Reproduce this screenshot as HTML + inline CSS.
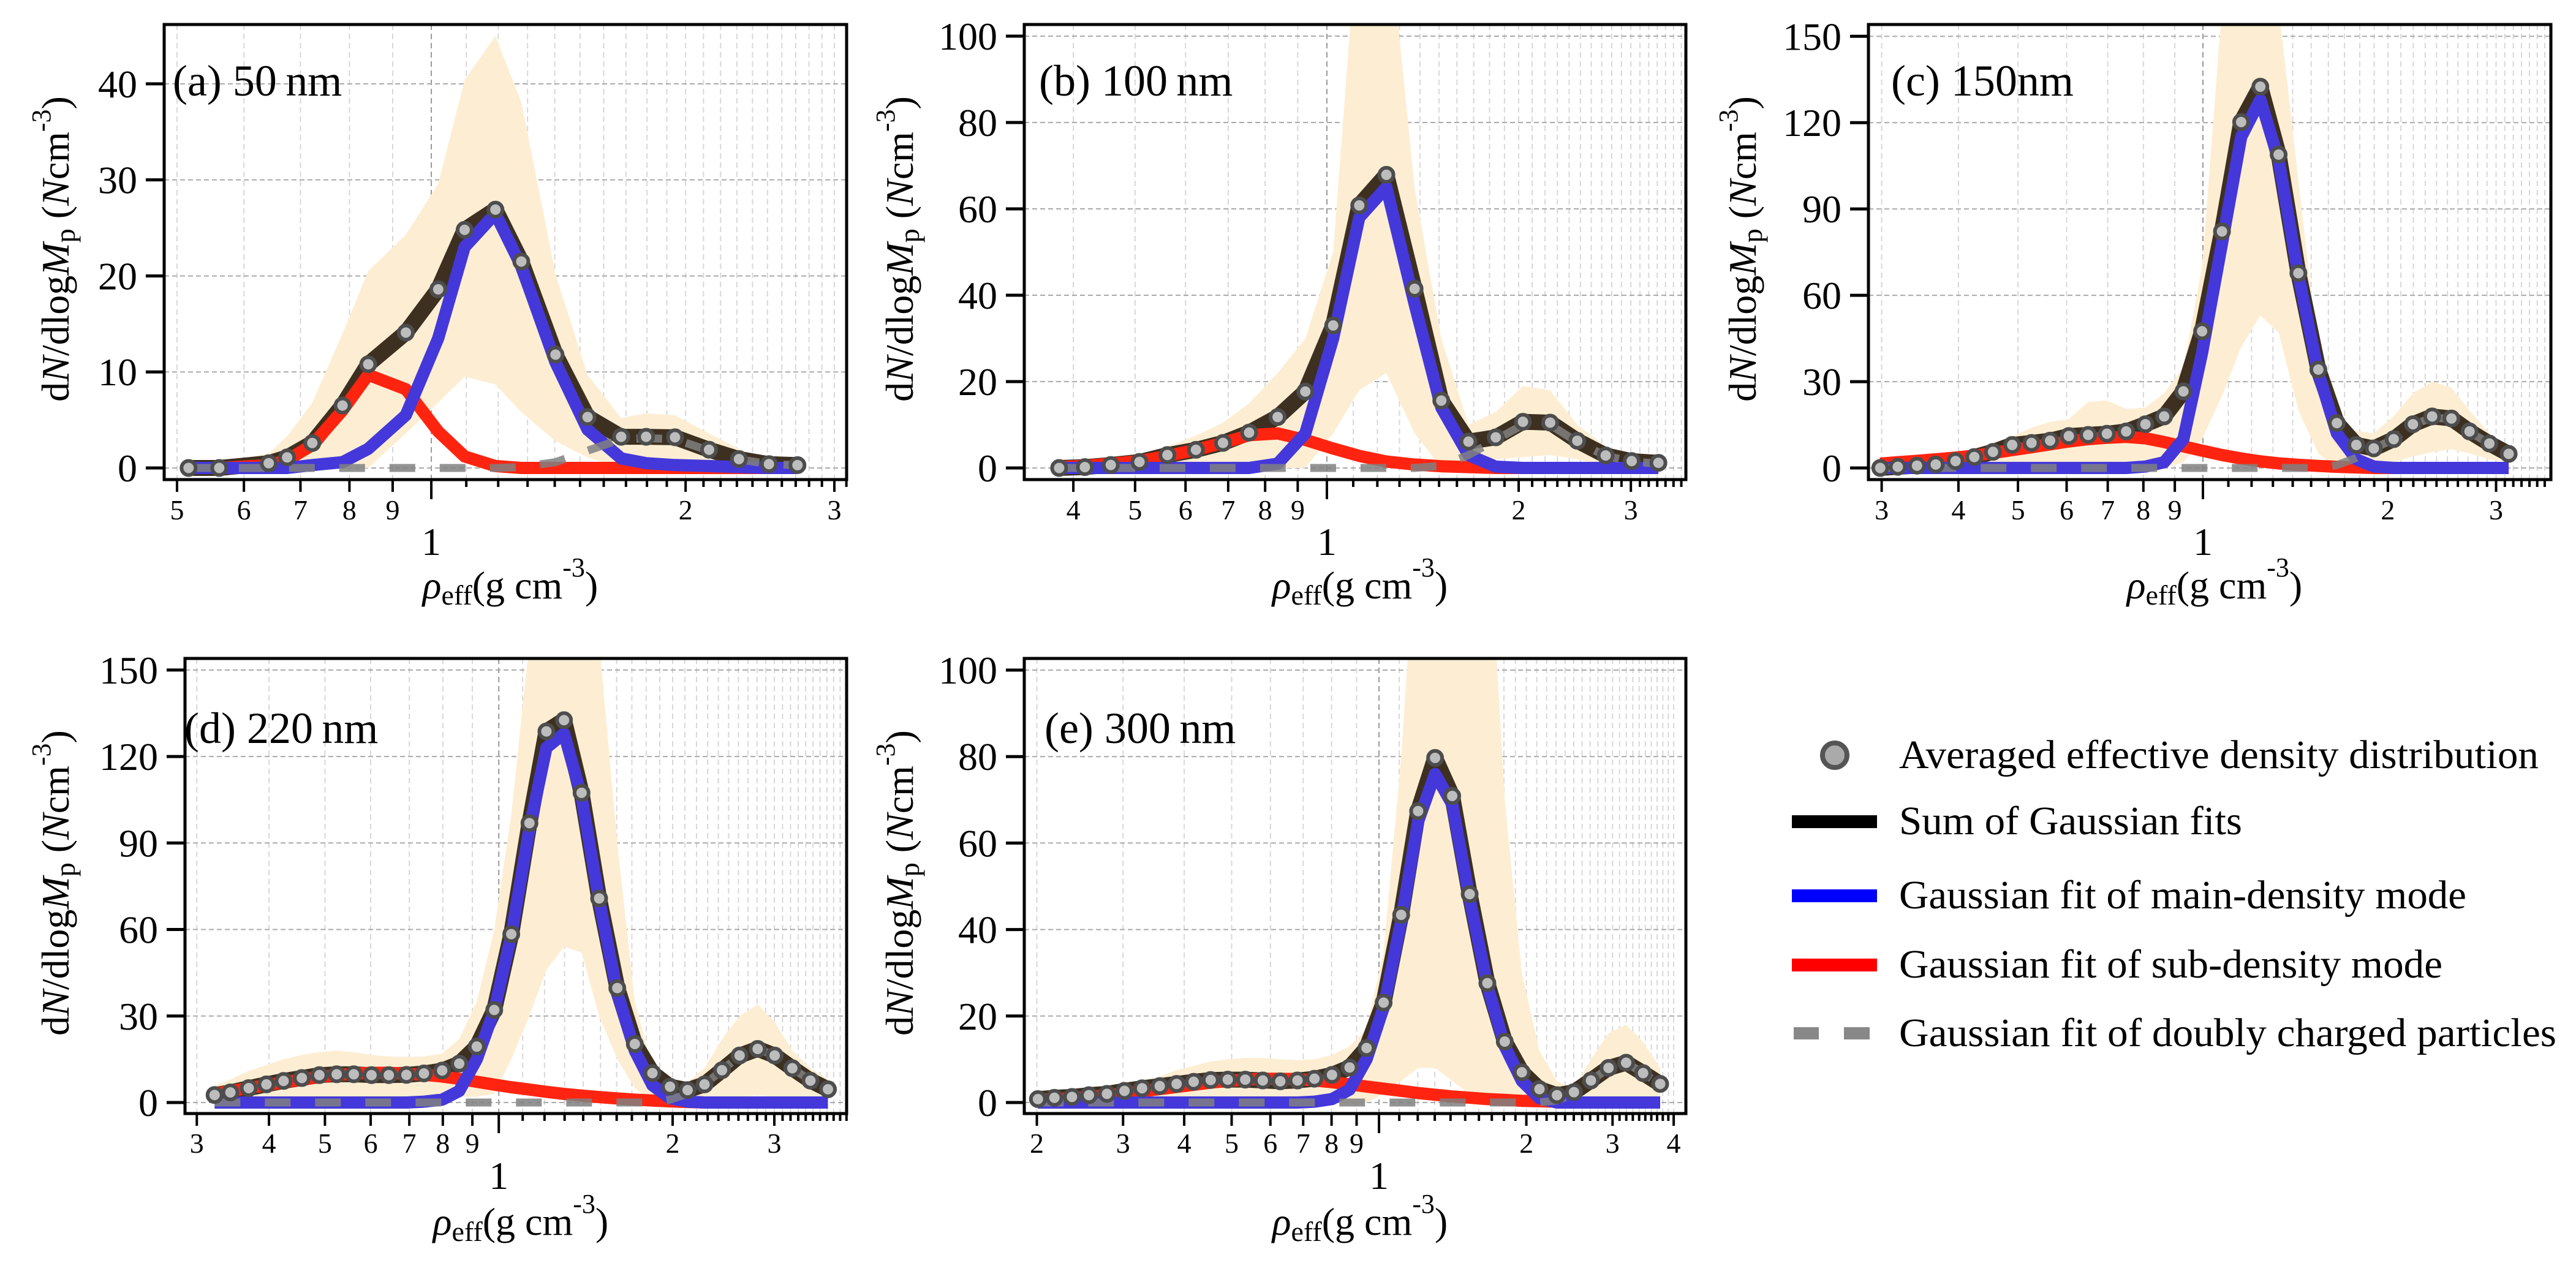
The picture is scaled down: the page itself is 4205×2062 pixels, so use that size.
<!DOCTYPE html>
<html><head><meta charset="utf-8"><title>Effective density distributions</title>
<style>
html,body{margin:0;padding:0;background:#fff;}
svg{display:block;font-family:"Liberation Serif","Times New Roman",serif;}
</style></head>
<body>
<svg id="fig" width="4205" height="2062" viewBox="0 0 4205 2062" xmlns="http://www.w3.org/2000/svg"></svg>
<script>
// ---------- Panel (a) 50 nm ----------
const X_A=[0.516,0.561,0.642,0.675,0.723,0.785,0.842,0.933,1.019,1.095,1.191,1.278,1.403,1.531,1.678,1.796,1.943,2.132,2.313,2.51,2.713];
const PTS_A=[0,0,0.5,1.1,2.6,6.5,10.8,14.1,18.6,24.8,26.9,21.5,11.8,5.3,3.25,3.25,3.2,1.9,0.93,0.4,0.3];
const BLUE_A=[0,0,0,0,0.3,0.6,2,5.5,13.5,23,26.5,21,11,4,1,0.5,0.3,0.2,0.1,0,0];
const RED_A=[0,0,0.3,0.8,2.4,6,9.7,8.2,3.8,1.2,0.2,0,0,0,0,0,0,0,0,0,0];
const GRAY_A=[0,0,0,0,0,0,0,0,0,0,0,0.1,0.6,1.8,3.0,3.1,3.0,1.8,0.9,0.4,0.3];
const HI_A=[0.3,0.5,1.5,3.3,6.8,14,20.5,24.3,29.6,40.4,45,38.1,20.2,9.7,5.2,5.7,5.5,3.6,2,0.7,0.3];
const LO_A=[0,0,0,0,0,0,0,3.6,6.8,9.5,8.7,5.8,2.8,1.1,0,0,0,0,0,0,0];
// ---------- Panel (b) 100 nm ----------
const X_B=[0.380,0.417,0.458,0.508,0.562,0.623,0.687,0.755,0.837,0.925,1.023,1.124,1.240,1.373,1.512,1.668,1.841,2.031,2.241,2.472,2.739,3.009,3.314];
const PTS_B=[0,0.2,0.7,1.4,3,4.2,5.8,8.2,11.8,17.7,33,60.8,67.9,41.5,15.6,6.1,7.1,10.7,10.5,6.3,2.9,1.6,1.2];
const BLUE_B=[0,0,0,0,0,0,0,0,1,8,30,58,65,38,14,3,0.3,0,0,0,0,0,0];
const RED_B=[0.2,0.5,1,1.6,2.8,4.2,5.8,7.6,8,6.5,4.5,2.8,1.5,0.8,0.4,0.2,0,0,0,0,0,0,0];
const GRAY_B=[0,0,0,0,0,0,0,0,0,0,0,0,0,0,0.5,3,6.5,10,10,6,2.8,1.5,1];
const HI_B=[0.3,0.5,1,2.5,5,7.5,10.5,15,22,30,50,130,130,65,30,10,13,19,18,10,5,2.5,1.5];
const LO_B=[0,0,0,0,0,0,0,0,0,0,8,18,22,8,0,0,2,2.5,3,2,0.5,0.5,0.3];
// ---------- Panel (c) 150 nm ----------
const X_C=[0.2984,0.3187,0.3425,0.3674,0.3957,0.4245,0.4553,0.4893,0.526,0.564,0.605,0.6504,0.6978,0.75,0.8061,0.8647,0.9294,0.9968,1.074,1.154,1.240,1.328,1.430,1.541,1.652,1.777,1.897,2.044,2.197,2.361,2.538,2.716,2.925,3.145];
const PTS_C=[0,0.4,0.8,1.2,2.4,3.8,5.6,8,8.7,9.5,11.1,11.5,11.9,12.7,15.2,17.9,26.6,47.5,82.2,120.2,132.5,108.9,67.7,34.2,15.6,8,6.8,10,15.2,17.9,17.2,12.7,8.5,4.9];
const BLUE_C=[0,0,0,0,0,0,0,0,0,0,0,0,0,0,0.5,2,10,40,78,115,128,107,67,33,12,3,0.5,0,0,0,0,0,0,0];
const RED_C=[1.5,2,2.5,3,3.6,4.3,5.2,6.2,7.2,8.2,9.2,10,10.5,10.8,10.3,9,7.5,6,4.5,3.3,2.3,1.6,1.1,0.7,0.4,0.2,0,0,0,0,0,0,0,0];
const GRAY_C=[0,0,0,0,0,0,0,0,0,0,0,0,0,0,0,0,0,0,0,0,0,0,0,0,1,3.5,6.8,10,15,17.5,17,12.5,8.5,4.9];
const HI_C=[0.5,0.8,1.2,1.8,3,6,8.5,11,14,16,17,23,23.5,20.5,21,26,35,70,160,160,160,160,100,40,12,13,12,18,26,30,28,20,12,6];
const LO_C=[0,0,0,0,0,0,0,0,0,0,0,0,0,0,0,0,2,10,25,42,53,47,20,5,0,0,0,2,4,5.5,6.5,5,3,2];
// ---------- Panel (d) 220 nm ----------
const X_D=[0.322,0.343,0.369,0.396,0.424,0.456,0.489,0.524,0.561,0.602,0.645,0.692,0.742,0.798,0.854,0.916,0.982,1.051,1.130,1.209,1.297,1.391,1.492,1.604,1.720,1.845,1.979,2.123,2.271,2.435,2.612,2.807,3.004,3.223,3.464,3.715];
const PTS_D=[2.6,3.5,5,6.3,7.5,8.5,9.5,9.8,9.8,9.5,9.5,9.6,10.1,11.1,13.5,19.4,32.1,58.4,96.9,128.7,132.6,107.4,70.8,39.7,20.3,10.2,5.5,4.3,6.3,11.2,16.3,18.6,16.3,11.9,7.6,4.6];
const BLUE_D=[0,0,0,0,0,0,0,0,0,0,0,0,0.3,1,4,15,32,58,95,123,128,106,70,38,18,6,1.5,0.3,0,0,0,0,0,0,0,0];
const RED_D=[3,4,5,6,7,8,8.8,9.5,10,10.3,10.3,10,9.6,9,8.2,7.2,6.2,5.3,4.5,3.7,3,2.4,1.9,1.4,1,0.7,0.4,0.2,0,0,0,0,0,0,0,0];
const GRAY_D=[0,0,0,0,0,0,0,0,0,0,0,0,0,0,0,0,0,0,0,0,0,0,0,0,0,0,1,3,6.3,11.2,16.3,18.6,16.3,11.9,7.6,4.6];
const HI_D=[6,8,11,13,15,16.5,17.5,18,17.5,16.5,16,15.8,16,17,22,35,60,100,160,160,160,160,160,90,35,12,8,7,12,22,30,34,28,18,12,8];
const LO_D=[1,1.5,2,2,2,2,2,2,2,2,2,2,2,2,2,2,3,15,30,46,54,52,30,15,5,0,0,0,0,1.5,2,2.5,2,1,0,0];
// ---------- Panel (e) 300 nm ----------
const X_E=[0.201,0.2172,0.2359,0.2555,0.2781,0.302,0.3281,0.3565,0.386,0.4182,0.4531,0.4909,0.533,0.5788,0.6286,0.6816,0.7382,0.8017,0.8708,0.9432,1.022,1.110,1.202,1.302,1.411,1.532,1.665,1.807,1.958,2.127,2.310,2.502,2.710,2.944,3.198,3.464,3.753];
const PTS_E=[0.8,1.1,1.3,1.7,2,2.7,3.3,3.8,4.3,4.8,5.2,5.3,5.3,5.1,4.9,5.1,5.5,6.4,8.1,12.6,23.1,43.4,67.4,79.7,70.9,48.2,27.6,14.1,7,3.1,1.7,2.4,5.1,8,9.2,6.8,4.3];
const BLUE_E=[0,0,0,0,0,0,0,0,0,0,0,0,0,0,0,0,0.2,0.8,3,10,22,42,65,76,69,47,27,13,5,1,0,0,0,0,0,0,0];
const RED_E=[0.6,0.8,1,1.3,1.7,2.1,2.6,3.1,3.6,4.1,4.6,5,5.3,5.5,5.5,5.4,5.1,4.7,4.2,3.7,3.2,2.7,2.2,1.8,1.4,1.1,0.8,0.6,0.4,0.3,0.2,0,0,0,0,0,0];
const GRAY_E=[0,0,0,0,0,0,0,0,0,0,0,0,0,0,0,0,0,0,0,0,0,0,0,0,0,0,0,0,0,0,0.5,2,5,8,9.2,6.8,4.3];
const HI_E=[1,1.2,1.5,2,2.5,3.5,4.5,6,7.5,8.5,9.5,10,10.3,10.3,10,9.8,10,11,13,17,35,80,140,140,140,140,140,70,30,12,5,3,10,16,18,14,8];
const LO_E=[0,0,0,0,0,0,0,0,0,0,0,0,0,0,0,0,0,0,0,0,2,5,8,8,5,2,0,0,0,0,0,0,0,0,0,0,0];

const Y_TICKS_A=[0,10,20,30,40];
const Y_TICKS_B=[0,20,40,60,80,100];
const Y_TICKS_C=[0,30,60,90,120,150];
const Y_TICKS_D=[0,30,60,90,120,150];
const Y_TICKS_E=[0,20,40,60,80,100];
const X_LABELS_A=[0.5,0.6,0.7,0.8,0.9,1,2,3];
const X_LABELS_B=[0.4,0.5,0.6,0.7,0.8,0.9,1,2,3];
const X_LABELS_C=[0.3,0.4,0.5,0.6,0.7,0.8,0.9,1,2,3];
const X_LABELS_D=[0.3,0.4,0.5,0.6,0.7,0.8,0.9,1,2,3];
const X_LABELS_E=[0.2,0.3,0.4,0.5,0.6,0.7,0.8,0.9,1,2,3,4];

const NS="http://www.w3.org/2000/svg";
const svg=document.getElementById('fig');
function mk(tag,attrs,parent){const e=document.createElementNS(NS,tag);for(const k in attrs)e.setAttribute(k,attrs[k]);(parent||svg).appendChild(e);return e;}

const panels=[
 {id:'a',title:'(a) 50\u2009nm',L:268,R:1382,T:40,B:783,xmin:0.4828,xmax:3.102,ymin:-1.21,ymax:46.18,x:X_A,pts:PTS_A,blue:BLUE_A,red:RED_A,gray:GRAY_A,hi:HI_A,lo:LO_A,yt:Y_TICKS_A,xl:X_LABELS_A,tx:282,ty:156,ylx:112,tickBase:848,oneBase:906,labBase:977},
 {id:'b',title:'(b) 100\u2009nm',L:1672,R:2752,T:40,B:783,xmin:0.335,xmax:3.66,ymin:-2.69,ymax:102.7,x:X_B,pts:PTS_B,blue:BLUE_B,red:RED_B,gray:GRAY_B,hi:HI_B,lo:LO_B,yt:Y_TICKS_B,xl:X_LABELS_B,tx:1696,ty:156,ylx:1490,tickBase:848,oneBase:906,labBase:977},
 {id:'c',title:'(c) 150nm',L:3050,R:4164,T:40,B:783,xmin:0.2855,xmax:3.684,ymin:-4.04,ymax:154.1,x:X_C,pts:PTS_C,blue:BLUE_C,red:RED_C,gray:GRAY_C,hi:HI_C,lo:LO_C,yt:Y_TICKS_C,xl:X_LABELS_C,tx:3087,ty:156,ylx:2866,tickBase:848,oneBase:906,labBase:977},
 {id:'d',title:'(d) 220\u2009nm',L:302,R:1382,T:1075,B:1818,xmin:0.2862,xmax:4.002,ymin:-3.82,ymax:154.0,x:X_D,pts:PTS_D,blue:BLUE_D,red:RED_D,gray:GRAY_D,hi:HI_D,lo:LO_D,yt:Y_TICKS_D,xl:X_LABELS_D,tx:301,ty:1213,ylx:112,tickBase:1882,oneBase:1941,labBase:2016},
 {id:'e',title:'(e) 300\u2009nm',L:1672,R:2752,T:1075,B:1818,xmin:0.1885,xmax:4.236,ymin:-2.55,ymax:102.7,x:X_E,pts:PTS_E,blue:BLUE_E,red:RED_E,gray:GRAY_E,hi:HI_E,lo:LO_E,yt:Y_TICKS_E,xl:X_LABELS_E,tx:1705,ty:1213,ylx:1490,tickBase:1882,oneBase:1941,labBase:2016}
];

function fmtTick(v){ if(v<1) return String(Math.round(v*10)); return String(v); }

panels.forEach(p=>{
  const lx0=Math.log10(p.xmin), lx1=Math.log10(p.xmax);
  const sx=v=>p.L+(Math.log10(v)-lx0)/(lx1-lx0)*(p.R-p.L);
  const sy=v=>p.B-(v-p.ymin)/(p.ymax-p.ymin)*(p.B-p.T);
  const g=mk('g',{});
  
  
  const cp=mk('clipPath',{id:'clip-'+p.id},g);
  mk('rect',{x:p.L,y:p.T,width:p.R-p.L,height:p.B-p.T},cp);
  const plot=mk('g',{'clip-path':'url(#clip-'+p.id+')'},g);
  
  
  const minors=[];
  for(let k=1;k<=40;k++){const v=k/10; if(v>=p.xmin&&v<=p.xmax) minors.push(v);}
  minors.forEach(v=>{
    const ln=mk('line',{x1:sx(v),x2:sx(v),y1:p.T,y2:p.B,stroke:v===1?'#999':'#d8d8d8','stroke-width':2,'stroke-dasharray':'9 6'},plot);
    
    
  });
  p.yt.forEach(v=>{
    const ln=mk('line',{x1:p.L,x2:p.R,y1:sy(v),y2:sy(v),stroke:'#aaa','stroke-width':2,'stroke-dasharray':'8 5'},plot);
    
    
  });
  let d='';
  p.x.forEach((xv,i)=>{d+=(i?'L':'M')+sx(xv).toFixed(1)+','+sy(p.hi[i]).toFixed(1);});
  for(let i=p.x.length-1;i>=0;i--){d+='L'+sx(p.x[i]).toFixed(1)+','+sy(p.lo[i]).toFixed(1);}
  const band=mk('path',{d:d+'Z',fill:'#fdeed3'},plot);
  
  
  const line=(arr,attrs,name)=>{
    const pts=p.x.map((xv,i)=>sx(xv).toFixed(1)+','+sy(arr[i]).toFixed(1)).join(' ');
    const el=mk('polyline',Object.assign({points:pts,fill:'none','stroke-linejoin':'round'},attrs),plot);
    
    
  };
  line(p.pts,{stroke:'#3d3020','stroke-width':26},'sum-gaussian-line');
  line(p.red,{stroke:'#ff2410','stroke-width':20},'sub-density-line');
  line(p.blue,{stroke:'#4438da','stroke-width':20},'main-density-line');
  line(p.gray,{stroke:'#808080','stroke-width':13,'stroke-opacity':0.85,'stroke-dasharray':'42 40','stroke-linejoin':'miter'},'doubly-charged-line');
  p.x.forEach((xv,i)=>{
    const c=mk('circle',{cx:sx(xv),cy:sy(p.pts[i]),r:11.5,fill:'#bdbdbd',stroke:'#4d4d4d','stroke-width':6},plot);
    
    
  });
  const fr=mk('rect',{x:p.L,y:p.T,width:p.R-p.L,height:p.B-p.T,fill:'none',stroke:'#000','stroke-width':5},g);
  
  
  p.yt.forEach(v=>{
    const t=mk('line',{x1:p.L-30,x2:p.L,y1:sy(v),y2:sy(v),stroke:'#000','stroke-width':5},g);
    
    
    const tl=mk('text',{x:p.L-44,y:sy(v)+22,'font-size':64,'text-anchor':'end',fill:'#000'},g);
    tl.textContent=String(v);
    
    
  });
  minors.forEach(v=>{
    const lab=p.xl.some(u=>Math.abs(u-v)<1e-9);
    const len=v===1?32:(lab?20:12);
    const t=mk('line',{x1:sx(v),x2:sx(v),y1:p.B,y2:p.B+len,stroke:'#000','stroke-width':4},g);
    
    
  });
  p.xl.forEach(v=>{
    const big=(v===1);
    const tl=mk('text',{x:sx(v),y:big?p.oneBase:p.tickBase,'font-size':big?64:46,'text-anchor':'middle',fill:'#000'},g);
    tl.textContent=fmtTick(v);
    
    
  });
  const cx=(p.L+p.R)/2;
  const xt=mk('text',{x:cx+8,y:p.labBase,'font-size':64,'text-anchor':'middle',fill:'#000'},g);
  
  
  xt.innerHTML='<tspan font-style="italic">ρ</tspan><tspan font-size="46" dy="10">eff</tspan><tspan dy="-10">(g cm</tspan><tspan font-size="44" dy="-36">-3</tspan><tspan dy="36">)</tspan>';
  const ycen=(p.T+p.B)/2-5;
  const yt=mk('text',{x:0,y:0,'font-size':64,'text-anchor':'middle',fill:'#000',transform:'translate('+p.ylx+','+ycen+') rotate(-90)'},g);
  
  
  yt.innerHTML='d<tspan font-style="italic">N</tspan>/dlog<tspan font-style="italic">M</tspan><tspan font-size="46" dy="10">p</tspan><tspan dy="-10"> (</tspan><tspan font-style="italic">N</tspan>cm<tspan font-size="44" dy="-30">-3</tspan><tspan dy="30">)</tspan>';
  const pt=mk('text',{x:p.tx,y:p.ty,'font-size':72,fill:'#000'},g);
  pt.textContent=p.title;
  
  
});

const LEG_LABELS=['Averaged effective density distribution','Sum of Gaussian fits','Gaussian fit of main-density mode','Gaussian fit of sub-density mode','Gaussian fit of doubly charged particles'];
const LEG_WIDTHS=[1044,560,926,887,1073];
const LEG_Y=[1233,1341,1462,1575,1687];
const lg=mk('g',{});


LEG_LABELS.forEach((lab,i)=>{
  const y=LEG_Y[i];
  let sym;
  if(i===0) sym=mk('circle',{cx:2995,cy:y,r:20,fill:'#aaaaaa',stroke:'#555','stroke-width':8},lg);
  else if(i===1) sym=mk('rect',{x:2925,y:y-10,width:139,height:21,fill:'#000'},lg);
  else if(i===2) sym=mk('rect',{x:2925,y:y-10,width:139,height:21,fill:'#0000ff'},lg);
  else if(i===3) sym=mk('rect',{x:2925,y:y-10,width:139,height:21,fill:'#ff0000'},lg);
  else sym=mk('path',{d:'M2928,'+(y-10)+'h41v20h-41zM3010,'+(y-10)+'h42v20h-42z',fill:'#888'},lg);
  
  
  const t=mk('text',{x:3100,y:y+21,'font-size':66,fill:'#000',textLength:LEG_WIDTHS[i],lengthAdjust:'spacingAndGlyphs'},lg);
  t.textContent=lab;
  
  
});
</script>
</body></html>
